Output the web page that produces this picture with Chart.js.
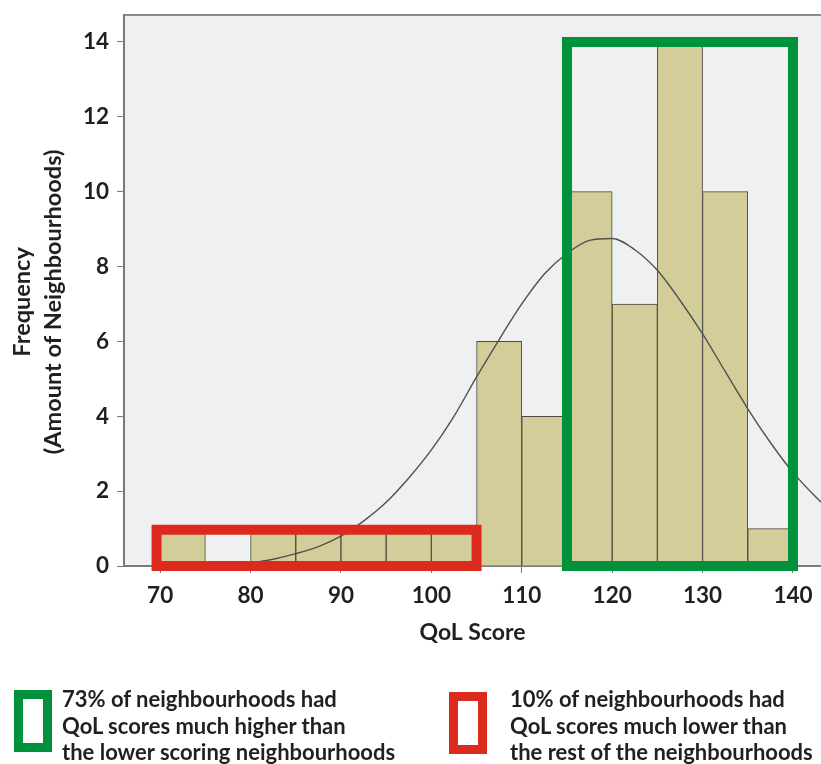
<!DOCTYPE html>
<html>
<head>
<meta charset="utf-8">
<script src="https://cdn.jsdelivr.net/npm/chart.js@4/dist/chart.umd.min.js"></script>
<style>
  html, body { margin: 0; padding: 0; background: #ffffff; }
  #wrap { position: relative; width: 821px; height: 764px; overflow: hidden; }
  #c { position: absolute; left: 0; top: 0; }
  .lbox { position: absolute; box-sizing: border-box; width: 38px; height: 62px; border-style: solid; border-width: 9px; }
  .ltext { position: absolute; font-family: Lato, "Open Sans", sans-serif; font-weight: bold; font-size: 22px; line-height: 26.5px; color: #231f20; white-space: nowrap; }
</style>
</head>
<body>
<div id="wrap">
  <canvas id="c" width="821" height="764"></canvas>
  <div class="lbox" style="left:14px; top:690px; border-color:#00913c;"></div>
  <div class="ltext" style="left:62px; top:686px;">73% of neighbourhoods had<br>QoL scores much higher than<br>the lower scoring neighbourhoods</div>
  <div class="lbox" style="left:449px; top:692px; border-color:#dc2a1f;"></div>
  <div class="ltext" style="left:510px; top:686px;">10% of neighbourhoods had<br>QoL scores much lower than<br>the rest of the neighbourhoods</div>
</div>
<script>
// ---- data ----
const binCenters  = [72.5, 77.5, 82.5, 87.5, 92.5, 97.5, 102.5, 107.5, 112.5, 117.5, 122.5, 127.5, 132.5, 137.5];
const frequencies = [1, null, 1, 1, 1, 1, 1, 6, 4, 10, 7, 14, 10, 1];

const curveX = [80, 82.5, 85, 87.5, 90, 92.5, 95, 97.5, 100, 102.5, 105, 107.5, 110, 112.5, 115, 117.5, 120, 122.5, 125, 127.5, 130, 132.5, 135, 137.5, 140, 142.5, 145];
const curveY = [0.08, 0.18, 0.33, 0.52, 0.8, 1.2, 1.7, 2.35, 3.1, 4.0, 5.05, 6.05, 7.0, 7.8, 8.35, 8.7, 8.75, 8.45, 7.9, 7.1, 6.2, 5.2, 4.2, 3.3, 2.5, 1.85, 1.3];

const greenBoxX = [115, 140, 140, 115, 115];
const greenBoxY = [14, 14, 0, 0, 14];
const redBoxX = [69.6, 105, 105, 69.6, 69.6];
const redBoxY = [0.97, 0.97, 0, 0, 0.97];

const xTicks = [70, 80, 90, 100, 110, 120, 130, 140];
const yTicks = [0, 2, 4, 6, 8, 10, 12, 14];

const xTitle = 'QoL Score';
const yTitle = ['Frequency    ', '(Amount of Neighbourhoods)    '];

// ---- build ----
const pts = (xs, ys) => xs.map((x, i) => ({ x: x, y: ys[i] }));

const bgPlugin = {
  id: 'plotBg',
  beforeDraw(chart) {
    const { ctx, chartArea: a } = chart;
    ctx.save();
    ctx.fillStyle = '#eff0f2';
    ctx.fillRect(a.left, a.top, a.right - a.left, a.bottom - a.top);
    ctx.strokeStyle = '#8a8a8a';
    ctx.lineWidth = 2;
    ctx.beginPath();
    ctx.moveTo(a.left, a.top);
    ctx.lineTo(a.right, a.top);
    ctx.stroke();
    ctx.restore();
  }
};

const fam = 'Lato, "Open Sans", sans-serif';
const tickFont = { family: fam, weight: 'bold', size: 22.5 };
const titleFont = { family: fam, weight: 'bold', size: 23 };

new Chart(document.getElementById('c'), {
  type: 'bar',
  data: {
    datasets: [
      {
        type: 'line', label: 'green', data: pts(greenBoxX, greenBoxY),
        borderColor: '#00913c', borderWidth: 10, pointRadius: 0, tension: 0,
        borderJoinStyle: 'miter', borderCapStyle: 'square', fill: false, clip: false, order: 0
      },
      {
        type: 'line', label: 'red', data: pts(redBoxX, redBoxY),
        borderColor: '#dc2a1f', borderWidth: 10, pointRadius: 0, tension: 0,
        borderJoinStyle: 'miter', borderCapStyle: 'square', fill: false, clip: false, order: 0
      },
      {
        type: 'line', label: 'normal', data: pts(curveX, curveY),
        borderColor: '#505050', borderWidth: 1.4, pointRadius: 0,
        cubicInterpolationMode: 'monotone', fill: false, order: 1
      },
      {
        type: 'bar', label: 'freq', data: pts(binCenters, frequencies),
        backgroundColor: '#d3ce99', borderColor: '#4a4a42', borderWidth: 1,
        barPercentage: 1, categoryPercentage: 1, order: 2
      }
    ]
  },
  options: {
    responsive: false,
    animation: false,
    events: [],
    layout: { padding: { top: 15, right: 0, bottom: 116, left: 0 } },
    plugins: { legend: { display: false }, tooltip: { enabled: false } },
    scales: {
      x: {
        type: 'linear', min: 66, max: 143.1, offset: false,
        afterFit(s) { s.height = 82; s.paddingLeft = 0; s.paddingRight = 0; },
        afterBuildTicks(s) { s.ticks = xTicks.map(v => ({ value: v })); },
        grid: { display: true, drawOnChartArea: false, drawTicks: true, tickLength: 7, color: '#7a7a7a', offset: false },
        border: { display: true, color: '#7a7a7a', width: 2 },
        ticks: { color: '#231f20', font: tickFont, padding: 9, maxRotation: 0, autoSkip: false },
        title: { display: true, text: xTitle, color: '#231f20', font: titleFont, padding: { top: 4, bottom: 2 } }
      },
      y: {
        type: 'linear', min: 0, max: 14.72,
        afterFit(s) { s.width = 124; s.paddingTop = 0; s.paddingBottom = 0; },
        afterBuildTicks(s) { s.ticks = yTicks.map(v => ({ value: v })); },
        grid: { display: true, drawOnChartArea: false, drawTicks: true, tickLength: 7, color: '#7a7a7a' },
        border: { display: true, color: '#7a7a7a', width: 2 },
        ticks: { color: '#231f20', font: tickFont, padding: 8 },
        title: { display: true, text: yTitle, color: '#231f20', font: { family: fam, weight: 'bold', size: 23.5, lineHeight: 1.32 }, padding: { top: 6.5, bottom: 4 } }
      }
    }
  },
  plugins: [bgPlugin]
});
</script>
</body>
</html>
